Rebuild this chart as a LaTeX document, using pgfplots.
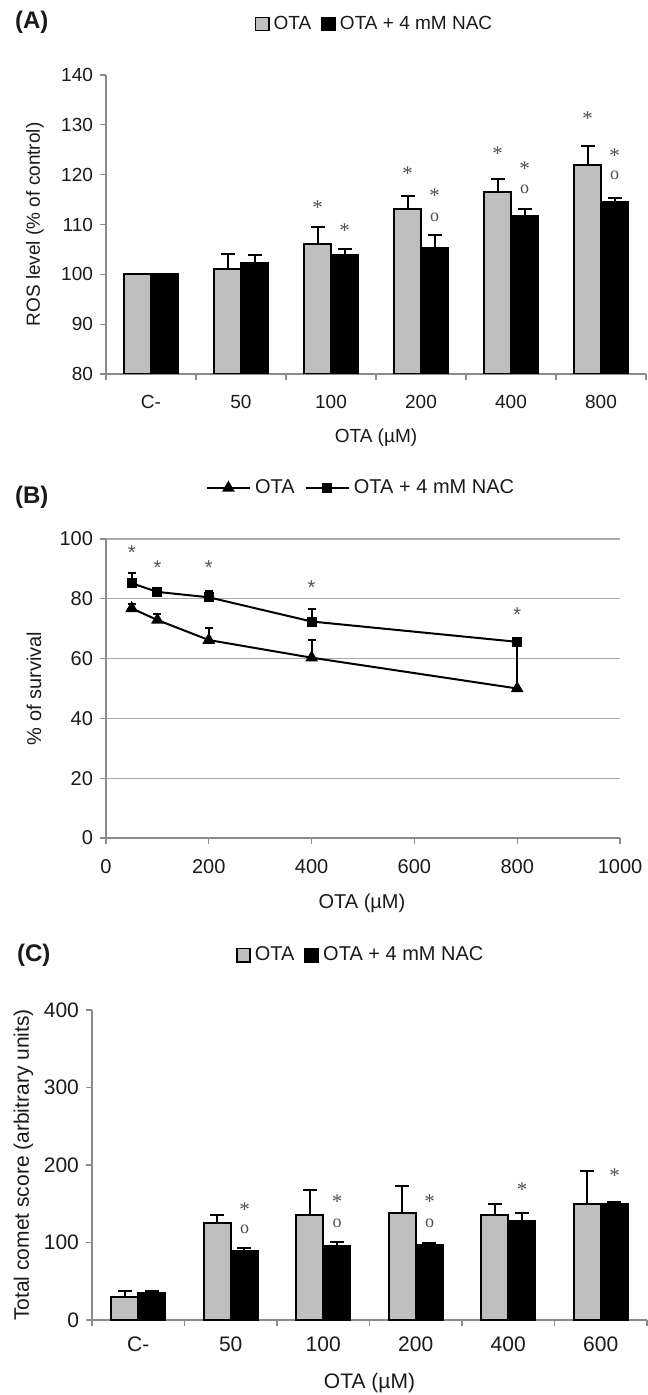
\documentclass[border=0pt]{standalone}
\usepackage{fontspec}
\setmainfont{Liberation Sans}
\newfontfamily\notefont{Liberation Serif}
\usepackage{pgfplots}
\pgfplotsset{compat=1.18}

\definecolor{barfill}{HTML}{BFBFBF}
\definecolor{axgray}{HTML}{8C8C8C}
\definecolor{gridgray}{HTML}{ABABAB}
\definecolor{txt}{HTML}{1A1A1A}
\definecolor{stargray}{HTML}{505050}

\newcommand{\fs}[1]{\fontsize{#1}{#1}\selectfont}
\newcommand{\st}{{\notefont\fs{10.5}*}}
\newcommand{\oo}{{\notefont\fs{9}o}}

\pgfplotsset{
  panel/.style={
    scale only axis, anchor=south west,
    axis x line*=bottom, axis y line*=left,
    x axis line style={-, draw=axgray, line width=0.6pt},
    y axis line style={-, draw=axgray, line width=0.6pt},
    tick align=outside, major tick length=3pt,
    tick style={draw=axgray, line width=0.6pt},
    /pgf/number format/assume math mode=true,
    /pgf/number format/1000 sep={},
    every tick label/.append style={text=txt},
    label style={text=txt},
  },
  barpanel/.style={
    panel, ybar=0pt, bar width=13.5pt,
    xmin=-0.5, xmax=5.5,
    xtick={-0.5,0.5,...,5.5},
    xticklabels={\empty,\empty,\empty,\empty,\empty,\empty,\empty},
    extra x ticks={0,1,2,3,4,5},
    extra x tick style={major tick length=0pt},
    error bars/y dir=plus, error bars/y explicit,
    error bars/error bar style={black, line width=1pt},
    error bars/error mark options={black, line width=1pt, mark size=3.5pt, rotate=90},
  },
  sqlegend/.style={legend image code/.code={\draw[##1, line width=0.8pt] (0pt,-3.3pt) rectangle (6.6pt,3.3pt);}},
}

\begin{document}
\begin{tikzpicture}
\useasboundingbox (0,0) rectangle (323.5pt,697.5pt);

\node[anchor=west, font=\bfseries\fs{12}, text=txt] at (4pt,686.5pt) {(A)};
\node[anchor=west, font=\bfseries\fs{12}, text=txt] at (4pt,449pt) {(B)};
\node[anchor=west, font=\bfseries\fs{12}, text=txt] at (5pt,220pt) {(C)};

% (A) ROS level
\begin{axis}[barpanel, at={(53pt,510.5pt)}, width=270pt, height=149.5pt,
  ymin=80, ymax=140, ytick={80,90,...,140},
  extra x tick labels={C-,50,100,200,400,800},
  tick label style={font=\fs{9.5}},
  xticklabel style={yshift=-7pt},
  label style={font=\fs{9.5}},
  ylabel={ROS level (\% of control)},
  ylabel style={at={(axis description cs:-0.1315,0.5)}, anchor=center},
  xlabel={OTA (µM)},
  xlabel style={at={(axis description cs:0.5,-0.214)}, anchor=center},
  legend style={at={(0.499,1.1706)}, anchor=center, draw=none, fill=none,
    legend columns=2, font=\fs{9.5}, text=txt,
    /tikz/every even column/.append style={column sep=3pt}},
]
\addplot+[sqlegend, fill=barfill, draw=black, line width=1pt] coordinates {
  (0,100) +- (0,0) (1,101.0) +- (0,3.1) (2,106.0) +- (0,3.5)
  (3,113.2) +- (0,2.5) (4,116.5) +- (0,2.6) (5,122.0) +- (0,3.8)};
\addplot+[sqlegend, fill=black, draw=black, line width=1pt] coordinates {
  (0,100) +- (0,0) (1,102.3) +- (0,1.5) (2,103.9) +- (0,1.2)
  (3,105.2) +- (0,2.7) (4,111.7) +- (0,1.5) (5,114.5) +- (0,0.8)};
\legend{OTA, OTA + 4 mM NAC}
\begin{scope}[every node/.style={text=stargray, inner sep=0pt}]
\node at (axis cs:1.85,113.3) {\st};
\node at (axis cs:2.15,108.7) {\st};
\node at (axis cs:2.85,120.2) {\st};
\node at (axis cs:3.15,115.7) {\st};
\node at (axis cs:3.15,111.5) {\oo};
\node at (axis cs:3.85,124.2) {\st};
\node at (axis cs:4.15,121.2) {\st};
\node at (axis cs:4.15,117.0) {\oo};
\node at (axis cs:4.85,131.2) {\st};
\node at (axis cs:5.15,123.9) {\st};
\node at (axis cs:5.15,119.8) {\oo};
\end{scope}
\end{axis}

% (B) survival
\begin{axis}[panel, at={(53pt,278.5pt)}, width=257pt, height=149.5pt,
  xmin=0, xmax=1000, xtick={0,200,...,1000},
  ymin=0, ymax=100, ytick={0,20,...,100},
  ymajorgrids, grid style={draw=gridgray, line width=0.6pt},
  tick label style={font=\fs{10}},
  label style={font=\fs{10}},
  xticklabel style={yshift=-4pt},
  ylabel={\% of survival},
  ylabel style={at={(axis description cs:-0.140,0.5)}, anchor=center},
  xlabel={OTA (µM)},
  xlabel style={at={(axis description cs:0.498,-0.217)}, anchor=center},
  legend style={at={(0.498,1.1706)}, anchor=center, draw=none, fill=none,
    legend columns=2, font=\fs{10}, text=txt,
    /tikz/every even column/.append style={column sep=3pt}},
  legend image code/.code={\draw[mark repeat=2, mark phase=2, #1]
    plot coordinates {(0cm,0cm) (0.38cm,0cm) (0.76cm,0cm)};},
]
\addplot[black, line width=1pt, mark=triangle*, mark size=2.7pt,
  error bars/.cd, y dir=plus, y explicit,
  error bar style={line width=1pt},
  error mark options={line width=1pt, mark size=2pt, rotate=90}]
  coordinates {(50,76.8) +- (0,1.3) (100,72.9) +- (0,2.0) (200,66.2) +- (0,3.9)
               (400,60.3) +- (0,5.9) (800,50.0) +- (0,15.6)};
\addplot[black, line width=1pt, mark=square*, mark size=2pt,
  error bars/.cd, y dir=plus, y explicit,
  error bar style={line width=1pt},
  error mark options={line width=1pt, mark size=2pt, rotate=90}]
  coordinates {(50,85.2) +- (0,3.3) (100,82.3) +- (0,1.1) (200,80.5) +- (0,2.2)
               (400,72.4) +- (0,4.2) (800,65.6) +- (0,0.5)};
\legend{OTA, OTA + 4 mM NAC}
\begin{scope}[every node/.style={text=stargray, inner sep=0pt, font=\fs{10}}]
\node at (axis cs:50,95.4) {*};
\node at (axis cs:100,90.5) {*};
\node at (axis cs:200,90.5) {*};
\node at (axis cs:400,83.8) {*};
\node at (axis cs:800,74.6) {*};
\end{scope}
\end{axis}

% (C) comet score
\begin{axis}[barpanel, at={(46pt,37.5pt)}, width=277.5pt, height=155pt,
  ymin=0, ymax=400, ytick={0,100,...,400},
  extra x tick labels={C-,50,100,200,400,600},
  tick label style={font=\fs{10.5}},
  xticklabel style={yshift=-5pt},
  label style={font=\fs{10.5}},
  ylabel={Total comet score (arbitrary units)},
  ylabel style={at={(axis description cs:-0.1234,0.5)}, anchor=center},
  xlabel={OTA (µM)},
  xlabel style={at={(axis description cs:0.5,-0.203)}, anchor=center},
  legend style={at={(0.486,1.177)}, anchor=center, draw=none, fill=none,
    legend columns=2, font=\fs{10}, text=txt,
    /tikz/every even column/.append style={column sep=3pt}},
]
\addplot+[sqlegend, fill=barfill, draw=black, line width=1pt] coordinates {
  (0,29.2) +- (0,8.2) (1,125.6) +- (0,9.9) (2,135.5) +- (0,31.8)
  (3,137.6) +- (0,35.3) (4,135.5) +- (0,14.6) (5,150.1) +- (0,41.7)};
\addplot+[sqlegend, fill=black, draw=black, line width=1pt] coordinates {
  (0,35.3) +- (0,2.1) (1,89.0) +- (0,4.3) (2,95.1) +- (0,6.0)
  (3,97.2) +- (0,2.2) (4,127.7) +- (0,10.4) (5,150.1) +- (0,2.2)};
\legend{OTA, OTA + 4 mM NAC}
\begin{scope}[every node/.style={text=stargray, inner sep=0pt}]
\node at (axis cs:1.15,142.5) {\st};
\node at (axis cs:1.15,116.5) {\oo};
\node at (axis cs:2.15,152.4) {\st};
\node at (axis cs:2.15,125.0) {\oo};
\node at (axis cs:3.15,152.4) {\st};
\node at (axis cs:3.15,125.0) {\oo};
\node at (axis cs:4.15,168.6) {\st};
\node at (axis cs:5.15,185.8) {\st};
\end{scope}
\end{axis}
\end{tikzpicture}
\end{document}
